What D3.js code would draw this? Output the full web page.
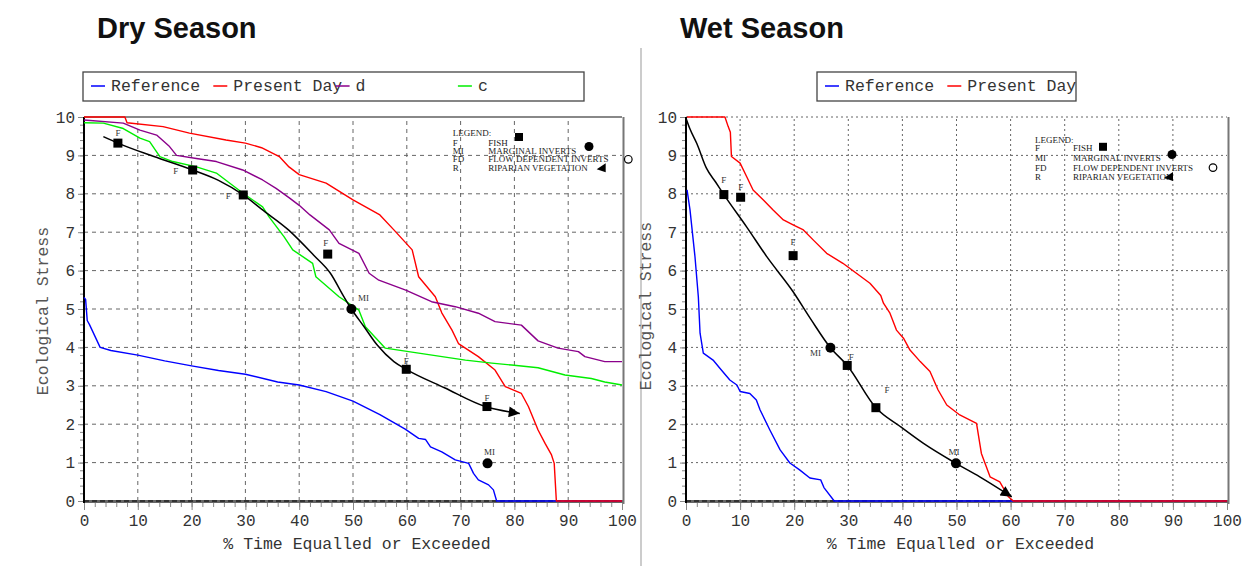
<!DOCTYPE html>
<html>
<head>
<meta charset="utf-8">
<script src="https://cdn.jsdelivr.net/npm/d3@7"></script>
<style>
  body { margin: 0; background: #fff; }
  svg { display: block; font-family: "Liberation Mono", "DejaVu Sans Mono", monospace; }
</style>
</head>
<body>
<svg id="chart" width="1242" height="566"></svg>
<script>
// Ecological stress duration curves

const xTicks = [0, 10, 20, 30, 40, 50, 60, 70, 80, 90, 100];
const yTicks = [0, 1, 2, 3, 4, 5, 6, 7, 8, 9, 10];

const legendCodes = ["F", "MI", "FD", "R"];
const legendNames = ["FISH", "MARGINAL INVERTS", "FLOW DEPENDENT INVERTS", "RIPARIAN VEGETATION"];

// Dry season
const drySeriesNames = ["Reference", "Present Day", "d", "c"];
const dryReference = [[0,5.3],[0.3,5.25],[0.6,4.7],[1,4.6],[2,4.3],[3,4.0],[5,3.92],[10,3.8],[15,3.65],[20,3.52],[25,3.4],[30,3.3],[36,3.1],[40,3.02],[45,2.85],[50,2.6],[55,2.25],[59.7,1.87],[62.2,1.63],[63.5,1.6],[64.4,1.41],[66.5,1.28],[69,1.07],[71.5,0.98],[72.4,0.72],[73.3,0.55],[75.2,0.42],[76.1,0.29],[76.7,0],[100,0]];
const dryPresent = [[0,10],[7.6,10],[8,9.85],[14.7,9.75],[19.6,9.58],[26.4,9.4],[30,9.32],[33,9.2],[36.3,8.97],[38.1,8.7],[40,8.5],[45,8.28],[50,7.84],[55,7.45],[57.6,7.06],[61,6.54],[62.2,5.84],[65.3,5.32],[66.5,4.9],[68.4,4.45],[69.6,4.1],[73.3,3.76],[76.4,3.41],[78.3,2.98],[81.3,2.8],[82.6,2.46],[84.4,1.85],[85.7,1.5],[86.9,1.2],[87.4,0.98],[87.8,0],[100,0]];
const dryD = [[0,9.92],[7.3,9.84],[10.4,9.66],[13.5,9.53],[15.9,9.23],[17.2,9.0],[20.9,8.92],[24.6,8.84],[29.5,8.62],[33.2,8.36],[35.7,8.14],[38.1,7.9],[40,7.7],[42,7.45],[45.6,7.06],[47.4,6.71],[51.1,6.45],[53,5.93],[54.8,5.75],[59.8,5.49],[64.6,5.19],[69,5.06],[73.3,4.89],[76.4,4.67],[81.3,4.58],[84.4,4.17],[88.1,3.98],[91.9,3.89],[93.1,3.76],[96.8,3.63],[100,3.63]];
const dryC = [[0,9.85],[3.6,9.84],[7.3,9.7],[10.4,9.45],[12.2,9.36],[14.1,8.97],[16.5,8.84],[20.9,8.7],[24.6,8.54],[29.5,8.02],[33.2,7.66],[34.4,7.4],[37.2,6.88],[38.8,6.54],[42.5,6.19],[43.1,5.84],[47.4,5.32],[51.1,4.97],[52.3,4.54],[56,3.98],[62.2,3.85],[70.9,3.67],[75.8,3.59],[79.5,3.54],[84.4,3.47],[89.4,3.28],[94.3,3.19],[96.8,3.1],[100,3.02]];
const dryTrend = [[3.6,9.49],[6.3,9.32],[13,8.97],[20.2,8.62],[25,8.35],[29.6,7.97],[33,7.6],[38,7.06],[42.7,6.4],[45.8,5.93],[48.3,5.32],[49.7,5.0],[52,4.55],[54.5,4.06],[57.6,3.63],[59.9,3.43],[67,2.95],[74.6,2.46],[81,2.28]];
const dryMarkers = [[6.3,9.32,"F"],[20.2,8.62,"F"],[29.6,7.97,"F"],[45.3,6.43,"F"],[49.7,5.0,"MI"],[59.9,3.43,"F"],[74.9,2.46,"F"],[75.0,0.98,"MI"]];

// Wet season
const wetSeriesNames = ["Reference", "Present Day"];
const wetReference = [[0.2,8.1],[0.25,8.05],[0.74,7.58],[1.66,6.36],[2.28,5.32],[2.6,4.37],[3.2,3.85],[5,3.67],[6.3,3.45],[8.1,3.15],[9.4,3.02],[10,2.85],[11.8,2.8],[13,2.63],[13.7,2.37],[15.5,1.85],[17.4,1.33],[19.2,0.99],[21,0.81],[22.9,0.6],[24.9,0.55],[25.5,0.35],[27.4,0],[100,0]];
const wetPresent = [[0.2,10],[7.2,10],[7.8,9.75],[8.2,9.6],[8.4,8.97],[10,8.8],[11.2,8.45],[12.4,8.1],[14.3,7.84],[16.1,7.58],[18,7.32],[19.8,7.19],[21.7,7.06],[23.5,6.8],[26,6.45],[29,6.19],[31.5,5.93],[34,5.67],[36,5.35],[36.5,5.15],[37.7,4.89],[38.9,4.45],[40.2,4.24],[41.4,3.93],[43.3,3.63],[45.1,3.37],[46.6,2.89],[48.2,2.5],[50.6,2.24],[53.7,2.02],[54.6,1.24],[56.2,0.63],[58,0.5],[59.6,0.11],[60.5,0],[100,0]];
const wetTrend = [[0,9.97],[0.7,9.7],[2,9.31],[3.8,8.66],[5.5,8.3],[7,7.98],[11.2,7.14],[15,6.35],[19.8,5.45],[23,4.75],[26.7,3.99],[29.8,3.53],[35.1,2.43],[39.6,1.94],[43.9,1.5],[49.9,0.98],[54.3,0.63],[60.2,0.11]];
const wetMarkers = [[7.0,7.98,"F"],[10.1,7.91,"F"],[19.8,6.39,"F"],[26.7,3.99,"MI"],[29.8,3.53,"F"],[35.1,2.43,"F"],[49.9,0.98,"MI"]];

const svg = d3.select("#chart");

svg.append("defs").append("marker")
    .attr("id", "arrow")
    .attr("viewBox", "0 0 10 10")
    .attr("refX", 10).attr("refY", 5)
    .attr("markerUnits", "userSpaceOnUse")
    .attr("markerWidth", 14).attr("markerHeight", 11)
    .attr("orient", "auto")
    .append("path")
    .attr("d", "M0,0L10,5L0,10z")
    .attr("fill", "#000");

// divider between the two panels
svg.append("line")
    .attr("x1", 641).attr("x2", 641).attr("y1", 48).attr("y2", 566)
    .attr("stroke", "#bbb").attr("stroke-width", 1.5);

function drawPanel(p) {
    const x = d3.scaleLinear().domain([0, 100]).range(p.xRange);
    const y = d3.scaleLinear().domain([0, 10]).range([501, 117]);
    const g = svg.append("g");

    // title
    g.append("text")
        .attr("x", p.titleX).attr("y", 38)
        .attr("font-family", "'Liberation Sans', Arial, sans-serif")
        .attr("font-weight", "bold").attr("font-size", 29)
        .attr("fill", "#111")
        .text(p.title);

    // series legend box
    const lg = g.append("g");
    lg.append("rect")
        .attr("x", p.legendBox[0]).attr("y", 72)
        .attr("width", p.legendBox[1] - p.legendBox[0]).attr("height", 29)
        .attr("fill", "none").attr("stroke", "#444").attr("stroke-width", 1.3);
    p.series.forEach((s, i) => {
        const sx = p.legendBox[0] + 8 + i * 122.3;
        lg.append("line")
            .attr("x1", sx).attr("x2", sx + 14).attr("y1", 86).attr("y2", 86)
            .attr("stroke", s.color).attr("stroke-width", 1.5);
        lg.append("text")
            .attr("x", sx + 20).attr("y", 86).attr("dy", "0.32em")
            .attr("font-size", 16.5).attr("fill", "#333")
            .text(s.name);
    });

    // grid
    const grid = g.append("g").attr("stroke", "#666").attr("stroke-width", 1)
        .attr("stroke-dasharray", p.dash);
    grid.selectAll(".vg").data(xTicks.filter(d => d > 0 && d < 100)).join("line")
        .attr("x1", d => x(d)).attr("x2", d => x(d))
        .attr("y1", y(0)).attr("y2", y(10));
    grid.selectAll(".hg").data(yTicks.filter(d => d > 0 && (d < 10 || !p.solidTop))).join("line")
        .attr("x1", x(0)).attr("x2", x(100))
        .attr("y1", d => y(d)).attr("y2", d => y(d));

    // frame
    g.append("line").attr("x1", x(0)).attr("x2", x(100) + 2).attr("y1", y(0) + 0.5).attr("y2", y(0) + 0.5)
        .attr("stroke", "#666").attr("stroke-width", 3);
    g.append("line").attr("x1", x(0)).attr("x2", x(100)).attr("y1", y(0)).attr("y2", y(0))
        .attr("stroke", "#000").attr("stroke-width", 1).attr("stroke-dasharray", "5,3");
    if (p.solidTop) {
        g.append("line").attr("x1", x(0)).attr("x2", x(100)).attr("y1", y(10)).attr("y2", y(10))
            .attr("stroke", "#888").attr("stroke-width", 2);
    }
    g.append("line").attr("x1", x(100) + 1.5).attr("x2", x(100) + 1.5).attr("y1", y(10)).attr("y2", y(0) + 3)
        .attr("stroke", "#777").attr("stroke-width", 2);

    // axes
    g.append("g").attr("transform", `translate(0,${y(0) + 2})`)
        .call(d3.axisBottom(x).tickValues(xTicks).tickSize(7).tickPadding(5));
    g.append("g").attr("transform", `translate(0,${y(0) + 2})`)
        .call(d3.axisBottom(x).tickValues(d3.range(0, 101, 2)).tickSize(4).tickFormat(""));
    g.append("g").attr("transform", `translate(${x(0)},0)`)
        .call(d3.axisLeft(y).tickValues(yTicks).tickSize(6).tickPadding(3));
    g.append("g").attr("transform", `translate(${x(0)},0)`)
        .call(d3.axisLeft(y).tickValues(d3.range(0, 10.01, 0.2)).tickSize(4).tickFormat(""));
    g.selectAll(".domain").remove();
    g.selectAll(".tick line").attr("stroke", "#888");
    g.selectAll(".tick text").attr("font-family", "'Liberation Mono', monospace")
        .attr("font-size", 16).attr("fill", "#333");

    g.append("line").attr("x1", x(0)).attr("x2", x(0)).attr("y1", y(10)).attr("y2", y(0) + 2)
        .attr("stroke", "#000").attr("stroke-width", 2);

    // axis titles
    g.append("text")
        .attr("x", (x(0) + x(100)) / 2 + 4).attr("y", 543).attr("dy", "0.35em")
        .attr("text-anchor", "middle").attr("font-size", 16.5).attr("fill", "#333")
        .text("% Time Equalled or Exceeded");
    g.append("text")
        .attr("transform", `translate(${p.yTitleX},${p.yTitleY}) rotate(-90)`)
        .attr("dy", "0.35em")
        .attr("text-anchor", "middle").attr("font-size", 16.5).attr("fill", "#555")
        .text("Ecological Stress");

    // duration curves
    const line = d3.line().x(d => x(d[0])).y(d => y(d[1]));
    p.series.forEach(s => {
        g.append("path").datum(s.values)
            .attr("fill", "none").attr("stroke", s.color).attr("stroke-width", 1.4)
            .attr("stroke-linejoin", "round")
            .attr("d", line);
    });

    // trend with arrow
    g.append("path").datum(p.trend)
        .attr("fill", "none").attr("stroke", "#000").attr("stroke-width", 1.5)
        .attr("marker-end", "url(#arrow)")
        .attr("d", d3.line().x(d => x(d[0])).y(d => y(d[1])).curve(d3.curveMonotoneX));

    // markers
    const mk = g.append("g");
    p.markers.forEach((m, i) => {
        const cx = x(m[0]), cy = y(m[1]);
        if (m[2] === "F") {
            mk.append("rect").attr("x", cx - 4.5).attr("y", cy - 4.5)
                .attr("width", 9).attr("height", 9).attr("fill", "#000");
        } else {
            mk.append("circle").attr("cx", cx).attr("cy", cy).attr("r", 5).attr("fill", "#000");
        }
        const off = p.labelOffsets[i];
        mk.append("text")
            .attr("x", cx + off[0]).attr("y", cy + off[1]).attr("dy", "0.35em")
            .attr("text-anchor", "middle")
            .attr("font-family", "'Liberation Serif', serif").attr("font-size", 9)
            .attr("fill", "#333")
            .text(m[2]);
    });

    // symbol legend inside the plot
    const sl = g.append("g").attr("font-family", "'Liberation Serif', serif")
        .attr("font-size", 9).attr("fill", "#222");
    const L = p.symLegend;
    sl.append("text").attr("x", L.x).attr("y", L.rows[0]).attr("dy", "0.35em").text("LEGEND:");
    legendCodes.forEach((c, i) => {
        sl.append("text").attr("x", L.x).attr("y", L.rows[i + 1]).attr("dy", "0.35em").text(c);
        sl.append("text").attr("x", L.nameX).attr("y", L.rows[i + 1]).attr("dy", "0.35em").text(legendNames[i]);
    });
    sl.append("rect").attr("x", L.square[0] - 4).attr("y", L.square[1] - 4)
        .attr("width", 8).attr("height", 8).attr("fill", "#000");
    sl.append("circle").attr("cx", L.dot[0]).attr("cy", L.dot[1]).attr("r", 4.5).attr("fill", "#000");
    sl.append("circle").attr("cx", L.ring[0]).attr("cy", L.ring[1]).attr("r", 3.8)
        .attr("fill", "#fff").attr("stroke", "#000").attr("stroke-width", 1.2);
    const t = L.tri;
    sl.append("path")
        .attr("d", `M${t[0] - 5},${t[1] + 1}L${t[0] + 4},${t[1] - 5}L${t[0] + 4},${t[1] + 4}Z`)
        .attr("fill", "#000");
}

drawPanel({
    title: "Dry Season", titleX: 97,
    xRange: [84, 622],
    legendBox: [83, 584],
    dash: "4,4",
    solidTop: true,
    yTitleX: 42, yTitleY: 311,
    series: [
        { name: drySeriesNames[0], color: "#0000ff", values: dryReference },
        { name: drySeriesNames[1], color: "#ff0000", values: dryPresent },
        { name: drySeriesNames[2], color: "#8b008b", values: dryD },
        { name: drySeriesNames[3], color: "#00ee00", values: dryC }
    ],
    trend: dryTrend,
    markers: dryMarkers,
    labelOffsets: [[0, -10], [-17, 1], [-15, 1], [-2, -11], [12, -11], [0, -8], [0, -9], [2, -12]],
    symLegend: {
        x: 452.7, nameX: 488.3,
        rows: [133.3, 142.7, 150.5, 159, 168.3],
        square: [519, 137], dot: [589, 146.5], ring: [628.3, 159.3], tri: [601.7, 168.3]
    }
});

drawPanel({
    title: "Wet Season", titleX: 680,
    xRange: [686, 1227],
    legendBox: [817, 1076],
    dash: "2,3",
    solidTop: false,
    yTitleX: 645, yTitleY: 306,
    series: [
        { name: wetSeriesNames[0], color: "#0000ff", values: wetReference },
        { name: wetSeriesNames[1], color: "#ff0000", values: wetPresent }
    ],
    trend: wetTrend,
    markers: wetMarkers,
    labelOffsets: [[0, -15], [0, -10], [0, -14], [-15, 5], [4, -9], [11, -18], [-2, -12]],
    symLegend: {
        x: 1035, nameX: 1073,
        rows: [140, 147.8, 157.5, 167.6, 177],
        square: [1103, 146.8], dot: [1172, 154.5], ring: [1213, 167.6], tri: [1169, 177]
    }
});
</script>
</body>
</html>
